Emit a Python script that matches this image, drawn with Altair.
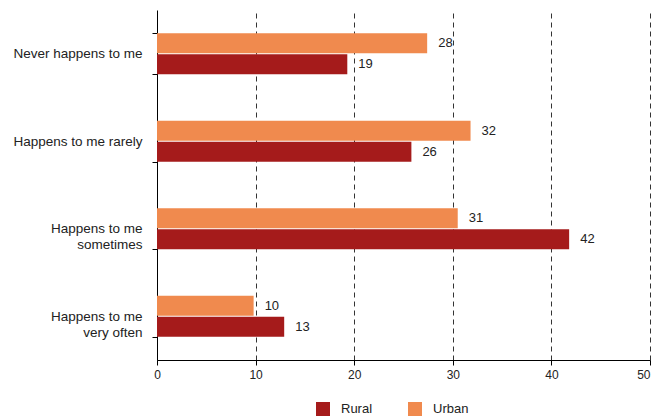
import altair as alt
import pandas as pd

categories = ["Never happens to me", "Happens to me rarely",
              "Happens to me\nsometimes", "Happens to me\nvery often"]
series = ["Rural", "Urban"]
rural = [19.3, 25.8, 41.8, 12.9]
urban = [27.4, 31.8, 30.5, 9.8]
rural_labels = [19, 26, 42, 13]
urban_labels = [28, 32, 31, 10]
x_ticks = [0, 10, 20, 30, 40, 50]
colors = ["#A51B1B", "#F08A4E"]

rows = []
for i, c in enumerate(categories):
    rows.append({"cat": c, "group": "Rural", "value": rural[i], "label": rural_labels[i]})
    rows.append({"cat": c, "group": "Urban", "value": urban[i], "label": urban_labels[i]})
df = pd.DataFrame(rows)

font = "Liberation Sans"

y_enc = alt.Y("cat:N", sort=categories, title=None,
              scale=alt.Scale(paddingInner=0.53, paddingOuter=0.265),
              axis=alt.Axis(labelExpr="split(datum.label, '\\n')", labelFontSize=13.5,
                            labelColor="#222", labelLineHeight=16, labelPadding=10,
                            tickSize=5, tickColor="black", domainColor="black",
                            tickBand="extent", minExtent=149, maxExtent=149,
                            labelFont=font, grid=False))
yoff = alt.YOffset("group:N", sort=["Urban", "Rural"], scale=alt.Scale(paddingInner=0.05))
x_enc = alt.X("value:Q", title=None,
              scale=alt.Scale(domain=[0, 50], nice=False),
              axis=alt.Axis(values=x_ticks, grid=True, gridDash=[5, 4], gridColor="#333",
                            gridWidth=1, domainColor="black", tickColor="black", tickSize=5,
                            labelFontSize=12, labelColor="#222", labelFont=font,
                            labelPadding=4, labelFlush=False, labelOverlap=False,
                            labelAlign={"condition": {"test": "datum.value == 50", "value": "right"},
                                        "value": "center"},
                            format="d"))

bars = alt.Chart(df).mark_bar().encode(
    y=y_enc, yOffset=yoff, x=x_enc,
    color=alt.Color("group:N", scale=alt.Scale(domain=series, range=colors),
                    legend=alt.Legend(orient="none", legendX=159, legendY=392,
                                      direction="horizontal", title=None,
                                      symbolType="square", symbolSize=196,
                                      symbolStrokeWidth=0, labelFontSize=13,
                                      labelFont=font, labelColor="#222",
                                      columnPadding=35, labelOffset=11))
)

text = alt.Chart(df).mark_text(align="left", baseline="middle", dx=11, fontSize=13,
                               font=font, color="#222").encode(
    y=alt.Y("cat:N", sort=categories), yOffset=yoff, x="value:Q",
    text=alt.Text("label:Q", format="d")
)

chart = (bars + text).properties(
    width=493, height=350,
    autosize=alt.AutoSizeParams(type="none"),
    padding={"left": 149, "top": 2, "right": 1, "bottom": 56}
).configure_view(stroke=None)

chart.save("out.html", embed_options={"renderer": "svg", "actions": False})
